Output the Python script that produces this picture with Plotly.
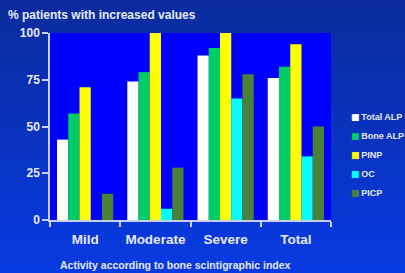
import plotly.graph_objects as go

categories = ["Mild", "Moderate", "Severe", "Total"]
series_names = ["Total ALP", "Bone ALP", "PINP", "OC", "PICP"]
total_alp = [43, 74, 88, 76]
bone_alp = [57, 79, 92, 82]
pinp = [71, 100, 100, 94]
oc = [0, 6, 65, 34]
picp = [14, 28, 78, 50]
y_ticks = [0, 25, 50, 75, 100]

series_values = [total_alp, bone_alp, pinp, oc, picp]
colors = ["#FFFFFF", "#00CC66", "#FFFF00", "#00FFFF", "#4A8238"]

FONT = "Liberation Sans, Arial, sans-serif"
TXT = "#E6E9F5"

fig = go.Figure()
for name, vals, col in zip(series_names, series_values, colors):
    fig.add_trace(go.Bar(x=categories, y=vals, name=name, marker_color=col,
                         marker_line_width=0, showlegend=False))
    label = '<span style="color:%s;font-family:DejaVu Sans">■</span>\u2009%s' % (col, name)
    fig.add_trace(go.Scatter(x=[None], y=[None], mode="markers", name=label,
                             marker=dict(symbol="square", size=7,
                                         color="rgba(0,0,0,0)", line_width=0)))

# gradient background bands
W, H = 405, 273
L, R, T, B = 50, 74, 33, 53
pw, ph = W - L - R, H - T - B
top = (10, 44, 156)
bot = (8, 58, 226)
n = 40
shapes = []
for i in range(n):
    f = i / (n - 1)
    c = tuple(int(round(top[k] + (bot[k] - top[k]) * f)) for k in range(3))
    y_hi = 1 + T / ph - (i / n) * (H / ph) + 0.005
    y_lo = 1 + T / ph - ((i + 1) / n) * (H / ph) - 0.01
    if i == n - 1:
        y_lo -= 0.1
    shapes.append(dict(type="rect", xref="paper", yref="paper", x0=-0.3, x1=1.4,
                       y0=y_lo, y1=y_hi, fillcolor="rgb(%d,%d,%d)" % c,
                       line_width=0, layer="below"))
shapes.append(dict(type="rect", xref="paper", yref="paper", x0=0, x1=1, y0=0, y1=1,
                   fillcolor="#0000FF", line_width=0, layer="below"))

fig.update_layout(
    width=W, height=H,
    margin=dict(l=L, r=R, t=T, b=B, autoexpand=False),
    paper_bgcolor="#0a34c8",
    plot_bgcolor="rgba(0,0,0,0)",
    barmode="group", bargap=0.2, bargroupgap=0,
    font=dict(family=FONT, color=TXT, weight="bold"),
    shapes=shapes,
    title=dict(text="% patients with increased values", x=8 / W, xanchor="left",
               y=1 - 15 / H, yanchor="middle",
               font=dict(size=12, family=FONT, color=TXT, weight="bold")),
    legend=dict(x=0.929, y=0.353, xanchor="left", yanchor="middle",
                font=dict(size=9, family=FONT, color=TXT, weight="bold"),
                bgcolor="rgba(0,0,0,0)", itemwidth=30, tracegroupgap=0),
    annotations=[dict(text="Activity according to bone scintigraphic index",
                      xref="paper", yref="paper", x=0.445, y=-45 / ph,
                      xanchor="center", yanchor="middle", showarrow=False,
                      font=dict(size=10.5, family=FONT, color=TXT, weight="bold"))],
)
fig.update_xaxes(showline=True, linecolor="#C8D0EE", linewidth=1.5,
                 ticks="outside", tickson="boundaries", ticklen=5,
                 tickcolor="#C8D0EE", tickwidth=1.5, tickangle=0,
                 tickfont=dict(size=13.5, family=FONT, color=TXT, weight="bold"),
                 ticklabelstandoff=6, showgrid=False)
fig.update_yaxes(range=[0, 100], tickvals=y_ticks, showline=True,
                 linecolor="#C8D0EE", linewidth=1.5, ticks="outside", ticklen=6,
                 tickcolor="#C8D0EE", tickwidth=1.5,
                 tickfont=dict(size=12, family=FONT, color=TXT, weight="bold"),
                 showgrid=False, zeroline=False)

fig.write_html("out.html", config={"displayModeBar": False},
               post_script="document.body.style.margin='0';document.body.style.background='#0838e0';")
